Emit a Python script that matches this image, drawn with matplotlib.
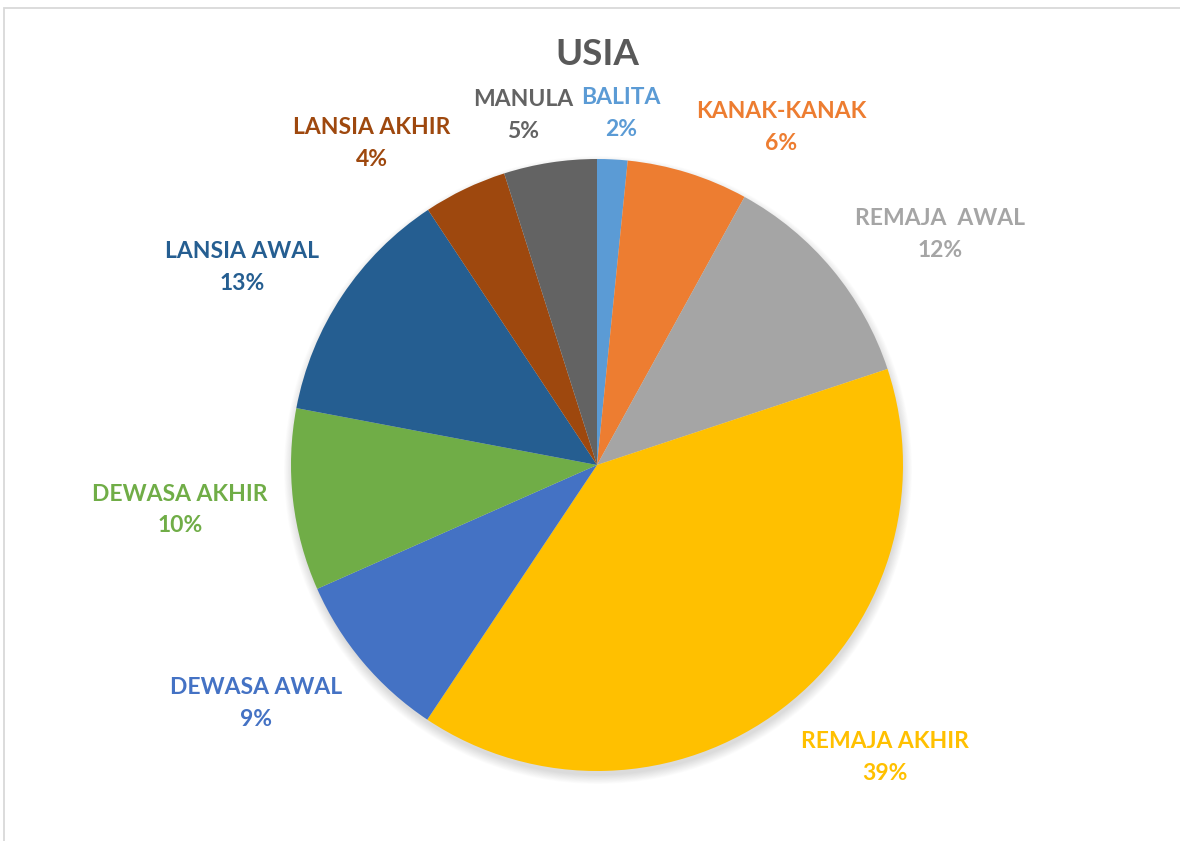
import matplotlib
matplotlib.use("Agg")
import matplotlib.pyplot as plt
from matplotlib.patches import Circle, Rectangle
import numpy as np

# ---- data ----
categories = ["BALITA", "KANAK-KANAK", "REMAJA  AWAL", "REMAJA AKHIR", "DEWASA AWAL",
              "DEWASA AKHIR", "LANSIA AWAL", "LANSIA AKHIR", "MANULA"]
values = [1.6, 6.4, 11.9, 39.4, 9.0, 9.6, 12.7, 4.4, 4.9]
colors = ["#5B9BD5", "#ED7D31", "#A5A5A5", "#FFC000", "#4472C4",
          "#70AD47", "#255E91", "#9E480E", "#636363"]
title = "USIA"

# label block centres (pixel layout, y from top)
label_pos = [(621, 113), (781, 127), (940, 234), (885, 757), (256, 704),
             (180, 510), (242, 267), (372, 143), (523, 115)]

W, H = 1180, 841
fig = plt.figure(figsize=(W / 100, H / 100), dpi=100)
ax = fig.add_axes([0, 0, 1, 1])
ax.set_xlim(0, W)
ax.set_ylim(0, H)
ax.set_aspect("equal")
ax.axis("off")

# chart border
fig.patches.append(Rectangle((3.5 / W, -0.1), 1.2, (H - 7.5) / H + 0.1,
                             transform=fig.transFigure, fill=False,
                             edgecolor="#D9D9D9", linewidth=1.3, zorder=0))

cx, cy, r = 597, H - 465, 306

# soft shadow
for i in range(12):
    ax.add_patch(Circle((cx + 1, cy - 5), r + 8 - i * 0.8, facecolor="black",
                        alpha=0.012, edgecolor="none", zorder=1))

wedges, _ = ax.pie(values, colors=colors, startangle=90, counterclock=False,
                   center=(cx, cy), radius=r, frame=True,
                   wedgeprops=dict(linewidth=0, zorder=2))
ax.set_xlim(0, W)
ax.set_ylim(0, H)
ax.axis("off")

total = sum(values)
font = "Lato"
for name, v, col, (lx, ly) in zip(categories, values, colors, label_pos):
    pct = f"{round(v / total * 100):.0f}%"
    ax.text(lx, H - ly + 16, name, ha="center", va="center", fontsize=16.5,
            fontweight="bold", color=col, family=font, zorder=5)
    ax.text(lx, H - ly - 16, pct, ha="center", va="center", fontsize=16.5,
            fontweight="bold", color=col, family=font, zorder=5)

ax.text(597, H - 54, title, ha="center", va="center", fontsize=26.5,
        fontweight="bold", color="#595959", family=font)

fig.savefig("out.png", dpi=100)
